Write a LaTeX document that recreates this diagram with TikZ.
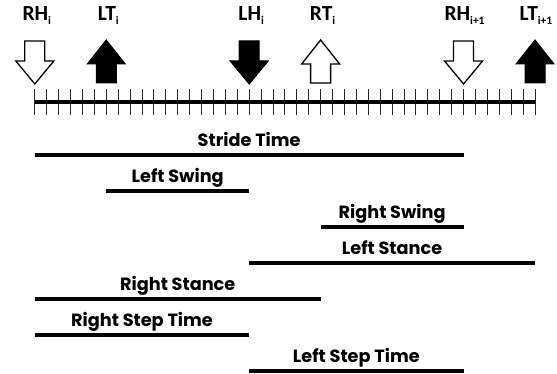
\documentclass[tikz,border=0pt]{standalone}
\usepackage{fontspec}
\setmainfont{Carlito}
\newfontfamily\phasefont{Poppins}
\usetikzlibrary{calc}

% subscript for the event labels
\newcommand{\evsub}[1]{\raisebox{-4pt}{\fontsize{11.5}{12}\selectfont #1}}

\tikzset{
  evlabel/.style={font=\bfseries\fontsize{21.5}{24}\selectfont, anchor=base, inner sep=0pt},
  phase/.style={font=\phasefont\bfseries\fontsize{17.7}{20}\selectfont, anchor=base, inner sep=0pt, midway, yshift=8.5pt},
  bar/.style={line width=4pt},
  tick/.style={black!85, line width=0.9pt},
  hollow/.style={draw=black, fill=white, line width=1.3pt, line join=miter},
  filled/.style={draw=black, fill=black, line width=1pt, line join=miter},
  % heel strike: arrow pointing down onto the time axis
  downarr/.pic={\path[pic actions] (-10,-61) -- (10,-61) -- (10,-41) -- (19,-41) -- (0,-18) -- (-19,-41) -- (-10,-41) -- cycle;},
  % toe off: arrow pointing up, away from the time axis
  uparr/.pic={\path[pic actions] (0,-62) -- (19,-38) -- (10,-38) -- (10,-19) -- (-10,-19) -- (-10,-38) -- (-19,-38) -- cycle;},
}

\begin{document}
\begin{tikzpicture}[x=1pt,y=-1pt]
\useasboundingbox (0,0) rectangle (557,374);

% time axis with 42 equal divisions
\foreach \k in {0,...,42}
  \coordinate (t\k) at ({34.8+\k*11.9095}, 102);
\foreach \k in {0,...,42}
  \draw[tick] ($(t\k)+(0,-13)$) -- ($(t\k)+(0,13)$);
\draw[line width=3.5pt] (t0) -- (t42);

% gait events
\pic[hollow] at (t0) {downarr};
\pic[filled] at (t6) {uparr};
\pic[filled] at (t18) {downarr};
\pic[hollow] at (t24) {uparr};
\pic[hollow] at (t36) {downarr};
\pic[filled] at (t42) {uparr};

\node[evlabel] (rhi)  at ($(t0)+(2,-81)$)  {RH\evsub{i}};
\node[evlabel] (lti)  at ($(t6)+(2,-81)$)  {LT\evsub{i}};
\node[evlabel] (lhi)  at ($(t18)+(2,-81)$) {LH\evsub{i}};
\node[evlabel] (rti)  at ($(t24)+(2,-81)$) {RT\evsub{i}};
\node[evlabel] (rhi1) at ($(t36)+(1,-81)$) {RH\evsub{i+1}};
\node[evlabel] (lti1) at ($(t42)+(1,-81)$) {LT\evsub{i+1}};

% gait phases
\draw[bar] ($(t0)+(0,53)$)   -- node[phase] (stride) {Stride Time}     ($(t36)+(0,53)$);
\draw[bar] ($(t6)+(0,89)$)   -- node[phase] (lswing) {Left Swing}      ($(t18)+(0,89)$);
\draw[bar] ($(t24)+(0,125)$) -- node[phase] (rswing) {Right Swing}     ($(t36)+(0,125)$);
\draw[bar] ($(t18)+(0,161)$) -- node[phase] (lstance) {Left Stance}    ($(t42)+(0,161)$);
\draw[bar] ($(t0)+(0,197)$)  -- node[phase] (rstance) {Right Stance}   ($(t24)+(0,197)$);
\draw[bar] ($(t0)+(0,233)$)  -- node[phase] (rstep) {Right Step Time}  ($(t18)+(0,233)$);
\draw[bar] ($(t18)+(0,269)$) -- node[phase] (lstep) {Left Step Time}   ($(t36)+(0,269)$);
\end{tikzpicture}
\end{document}
